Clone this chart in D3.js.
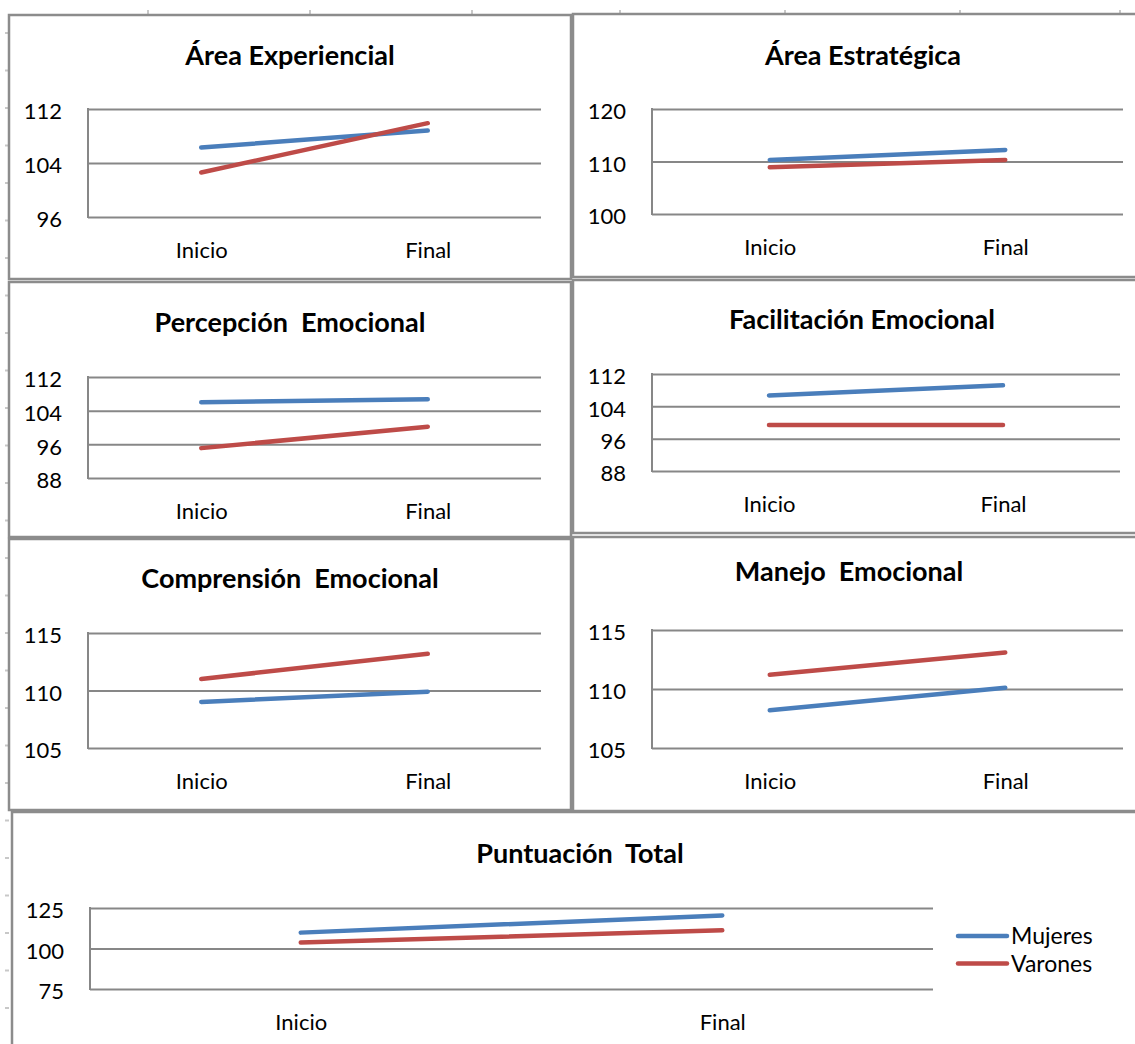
<!DOCTYPE html>
<html>
<head>
<meta charset="utf-8">
<script src="https://cdn.jsdelivr.net/npm/d3@7"></script>
<style>
  body { margin: 0; background: #fff; }
  svg { display: block; font-family: Lato, "Open Sans", sans-serif; }
</style>
</head>
<body>
<svg id="chart" width="1135" height="1044"></svg>
<script>
'use strict';

// data
var categories = ['Inicio', 'Final'];
var seriesNames = ['Mujeres', 'Varones'];
var titles = [
    'Área Experiencial',
    'Área Estratégica',
    'Percepción  Emocional',
    'Facilitación Emocional',
    'Comprensión  Emocional',
    'Manejo  Emocional',
    'Puntuación  Total'
];
var mujeres = [
    [106.3, 108.8],
    [110.3, 112.2],
    [106.0, 106.7],
    [106.7, 109.2],
    [109.0, 109.9],
    [108.2, 110.1],
    [109.8, 120.4]
];
var varones = [
    [102.6, 109.9],
    [108.9, 110.3],
    [95.1, 100.2],
    [99.4, 99.4],
    [111.0, 113.2],
    [111.2, 113.1],
    [103.7, 111.2]
];
var yTicks = [
    [96, 104, 112],
    [100, 110, 120],
    [88, 96, 104, 112],
    [88, 96, 104, 112],
    [105, 110, 115],
    [105, 110, 115],
    [75, 100, 125]
];

// panel frames and plot areas (pixels)
var layout = [
    { box: [9, 15, 562, 264],   plot: [88, 109, 541, 217],  title: [290, 65] },
    { box: [573, 14, 580, 263], plot: [652, 109, 1123, 214], title: [863, 65] },
    { box: [9, 282, 562, 255],  plot: [88, 377, 541, 478],  title: [290, 332] },
    { box: [573, 280, 580, 253], plot: [652, 374, 1120, 471], title: [862, 329] },
    { box: [9, 539, 562, 271],  plot: [88, 633, 541, 748],  title: [290, 588] },
    { box: [573, 537, 580, 274], plot: [652, 630, 1123, 748], title: [849, 581] },
    { box: [12, 812, 1140, 240], plot: [90, 908, 933, 989],  title: [580, 863] }
];

var COLORS = ['#4a7ebb', '#be4b48'];
var GRID = '#878787';
var BORDER = '#8c8c8c';

var svg = d3.select('#chart');

// faint spreadsheet cell marks behind the charts
var marks = svg.append('g').attr('stroke', '#c8c8c8').attr('stroke-width', 2);
[148, 310, 472, 620, 785, 960, 1120].forEach(function(x) {
    marks.append('line').attr('x1', x).attr('x2', x).attr('y1', 10).attr('y2', 14);
});
d3.range(33, 1040, 37.5).forEach(function(y) {
    marks.append('line').attr('x1', 5).attr('x2', 9).attr('y1', y).attr('y2', y);
});

function drawPanel(i)
{
    var L = layout[i];
    var g = svg.append('g');

    g.append('rect')
        .attr('x', L.box[0])
        .attr('y', L.box[1])
        .attr('width', L.box[2])
        .attr('height', L.box[3])
        .style('fill', '#fff')
        .style('stroke', BORDER)
        .style('stroke-width', 2.5);

    g.append('text')
        .attr('x', L.title[0])
        .attr('y', L.title[1])
        .attr('text-anchor', 'middle')
        .style('white-space', 'pre')
        .style('font-size', '27px')
        .style('font-weight', 'bold')
        .style('fill', '#000')
        .text(titles[i]);

    var x = d3.scalePoint()
        .domain(categories)
        .range([L.plot[0], L.plot[2]])
        .padding(0.5);

    var ext = d3.extent(yTicks[i]);
    var y = d3.scaleLinear()
        .domain(ext)
        .range([L.plot[3], L.plot[1]]);

    // gridlines + y labels
    var yAxis = g.append('g')
        .attr('transform', 'translate(' + L.plot[0] + ',0)')
        .call(d3.axisLeft(y)
            .tickValues(yTicks[i])
            .tickSize(-(L.plot[2] - L.plot[0]))
            .tickPadding(26));
    yAxis.select('.domain').remove();
    yAxis.selectAll('.tick line')
        .attr('stroke', GRID)
        .attr('stroke-width', 2);
    yAxis.selectAll('.tick text')
        .attr('dy', '0.45em')
        .style('font-family', 'Lato')
        .style('font-size', '22px')
        .style('fill', '#000');

    // vertical axis line
    g.append('line')
        .attr('x1', L.plot[0]).attr('x2', L.plot[0])
        .attr('y1', L.plot[1] - 1).attr('y2', L.plot[3] + 1)
        .attr('stroke', GRID)
        .attr('stroke-width', 2);

    // category labels
    var xAxis = g.append('g')
        .attr('transform', 'translate(0,' + L.plot[3] + ')')
        .call(d3.axisBottom(x).tickSize(0).tickPadding(25));
    xAxis.select('.domain').remove();
    xAxis.selectAll('.tick text')
        .style('font-family', 'Lato')
        .style('font-size', '22px')
        .style('fill', '#000');

    var line = d3.line()
        .x(function(d, j) { return x(categories[j]); })
        .y(function(d) { return y(d); });

    [mujeres[i], varones[i]].forEach(function(values, s) {
        g.append('path')
            .datum(values)
            .attr('d', line)
            .attr('fill', 'none')
            .attr('stroke', COLORS[s])
            .attr('stroke-width', 4.5)
            .attr('stroke-linecap', 'round');
    });

    return g;
}

var panels = d3.range(titles.length).map(drawPanel);

// legend sits in the last (total) chart
var legend = panels[6].append('g');
seriesNames.forEach(function(name, s) {
    var ly = 936 + s * 27.5;
    legend.append('line')
        .attr('x1', 958).attr('x2', 1007)
        .attr('y1', ly).attr('y2', ly)
        .attr('stroke', COLORS[s])
        .attr('stroke-width', 4.5)
        .attr('stroke-linecap', 'round');
    legend.append('text')
        .attr('x', 1011)
        .attr('y', ly + 8)
        .style('font-size', '23px')
        .style('fill', '#000')
        .text(name);
});
</script>
</body>
</html>
